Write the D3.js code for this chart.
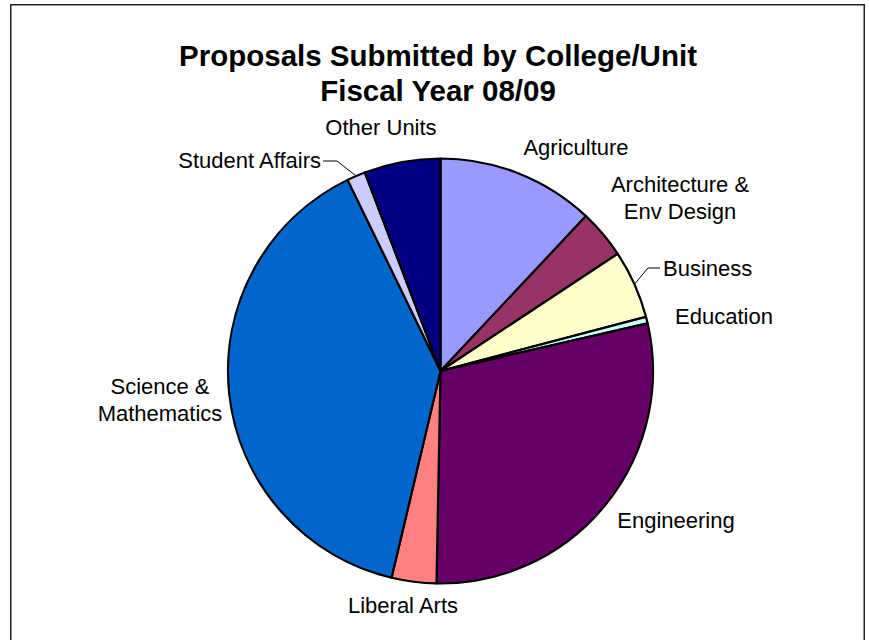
<!DOCTYPE html>
<html>
<head>
<meta charset="utf-8">
<script src="https://cdn.jsdelivr.net/npm/d3@7"></script>
<style>
	html, body { margin: 0; padding: 0; background: #fff; }
	svg { display: block; font-family: "Liberation Sans", Arial, sans-serif; }
	.slice { stroke: #000; stroke-width: 2.2; stroke-linejoin: round; }
	.label { font-size: 22px; fill: #000; }
	.title { font-size: 29.5px; font-weight: bold; fill: #000; }
	.leader { fill: none; stroke: #000; stroke-width: 1; }
</style>
</head>
<body>
<div id="chart"></div>
<script>
	// share of proposals (percent)
	var units = ['Agriculture', 'Architecture & Env Design', 'Business', 'Education', 'Engineering',
		'Liberal Arts', 'Science & Mathematics', 'Student Affairs', 'Other Units'];
	var shares = [12.0, 3.7, 5.2, 0.5, 28.9, 3.4, 39.1, 1.4, 5.8];
	var colors = ['#9999FF', '#993366', '#FFFFCC', '#CCFFFF', '#660066',
		'#FF8080', '#0066CC', '#CCCCFF', '#000080'];
	var titleLines = ['Proposals Submitted by College/Unit', 'Fiscal Year 08/09'];

	var width = 869,
		height = 640,
		cx = 440.5,
		cy = 371,
		radius = 212.5;

	// label layout: text lines, anchor point and optional leader line
	var labelLayout = {
		'Agriculture': { x: 576, y: 155, anchor: 'middle', lines: ['Agriculture'] },
		'Architecture & Env Design': { x: 680, y: 192, anchor: 'middle', lines: ['Architecture &', 'Env Design'] },
		'Business': { x: 663, y: 276, anchor: 'start', lines: ['Business'], leader: [[648, 268], [660, 268]] },
		'Education': { x: 724, y: 324, anchor: 'middle', lines: ['Education'] },
		'Engineering': { x: 676, y: 528, anchor: 'middle', lines: ['Engineering'] },
		'Liberal Arts': { x: 403, y: 613, anchor: 'middle', lines: ['Liberal Arts'] },
		'Science & Mathematics': { x: 160, y: 394, anchor: 'middle', lines: ['Science &', 'Mathematics'] },
		'Student Affairs': { x: 321, y: 168, anchor: 'end', lines: ['Student Affairs'], leader: [[337, 161], [323, 161]] },
		'Other Units': { x: 381, y: 135, anchor: 'middle', lines: ['Other Units'] }
	};

	var svg = d3.select('#chart')
		.append('svg')
			.attr('width', width)
			.attr('height', height);

	svg.append('rect')
		.attr('x', 10.75)
		.attr('y', 4.75)
		.attr('width', 853.5)
		.attr('height', 700)
		.attr('fill', '#fff')
		.attr('stroke', '#222')
		.attr('stroke-width', 1.5);

	// TITLE
	svg.selectAll('.title')
		.data(titleLines)
		.enter()
		.append('text')
			.attr('class', 'title')
			.attr('x', 438)
			.attr('y', function (d, i) { return 66 + i * 35; })
			.attr('text-anchor', 'middle')
			.text(function (d) { return d; });

	var pie = d3.pie()
		.sort(null)
		.value(function (d) { return d; })
		.startAngle(0)
		.endAngle(2 * Math.PI);

	var arc = d3.arc()
		.innerRadius(0)
		.outerRadius(radius);

	var arcs = pie(shares);

	var g = svg.append('g')
		.attr('transform', 'translate(' + cx + ',' + cy + ')');

	// SLICES
	g.selectAll('.slice')
		.data(arcs)
		.enter()
		.append('path')
			.attr('class', 'slice')
			.attr('fill', function (d, i) { return colors[i]; })
			.attr('d', arc);

	// LEADERS
	arcs.forEach(function (d, i) {
		var lay = labelLayout[units[i]];
		if (!lay.leader) {
			return;
		}
		var mid = (d.startAngle + d.endAngle) / 2,
			start = [cx + radius * Math.sin(mid), cy - radius * Math.cos(mid)];
		svg.append('path')
			.attr('class', 'leader')
			.attr('d', d3.line()([start].concat(lay.leader)));
	});

	// LABELS
	units.forEach(function (name) {
		var lay = labelLayout[name];
		var text = svg.append('text')
			.attr('class', 'label')
			.attr('text-anchor', lay.anchor);
		lay.lines.forEach(function (line, j) {
			text.append('tspan')
				.attr('x', lay.x)
				.attr('y', lay.y + j * 27)
				.text(line);
		});
	});
</script>
</body>
</html>
